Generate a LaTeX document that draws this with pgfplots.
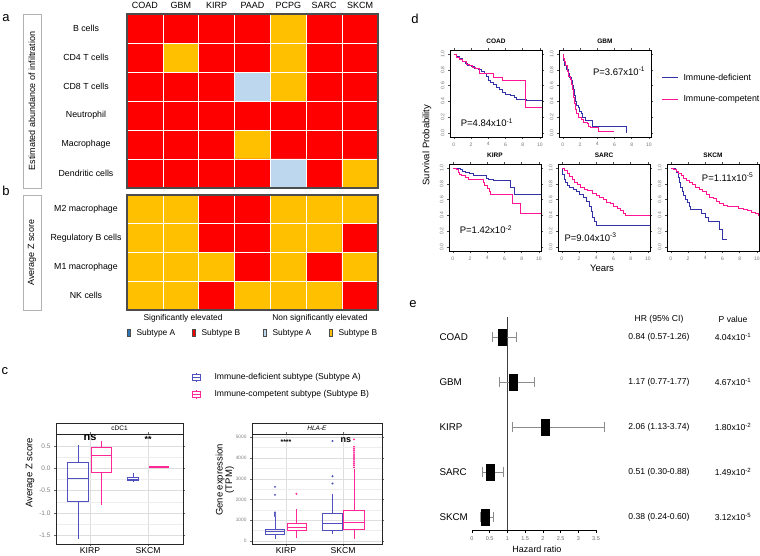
\documentclass[border=0pt]{standalone}
\usepackage{fontspec}
\setmainfont{Liberation Sans}
\usepackage{pgfplots}
\pgfplotsset{compat=1.18}
\usepgfplotslibrary{statistics}
\pgfkeys{/pgf/number format/assume math mode=true}
\newcommand{\fs}[1]{\fontsize{#1}{#1}\selectfont}
\definecolor{hred}{RGB}{255,0,0}
\definecolor{hora}{RGB}{255,192,0}
\definecolor{hlb}{RGB}{189,215,238}
\definecolor{hdb}{RGB}{46,117,182}
\definecolor{kmblue}{RGB}{50,50,165}
\definecolor{kmpink}{RGB}{255,20,147}
\definecolor{bxblue}{RGB}{80,80,190}
\definecolor{bxpink}{RGB}{255,40,150}

\pgfplotsset{
  heat/.style={scale only axis, width=251pt, xmin=-0.5, xmax=6.5, y dir=reverse,
    enlargelimits=false, xtick={0.5,1.5,2.5,3.5,4.5,5.5}, xticklabels={}, yticklabels={},
    grid=major, major grid style={white, line width=0.7pt}, major tick length=0pt,
    axis on top, axis line style={black!70, line width=1.3pt},
    colormap={hm}{rgb255=(255,0,0) rgb255=(255,192,0) rgb255=(189,215,238) rgb255=(46,117,182)},
    point meta min=0, point meta max=3},
  km/.style={scale only axis, width=92pt, height=87pt, xmin=-0.45, xmax=10.25, ymin=-0.05, ymax=1.05,
    xtick={0,2,4,6,8,10}, ytick={0,0.2,0.4,0.6,0.8,1},
    tick align=outside, major tick length=2pt, tick style={black!70, line width=0.4pt},
    tick label style={font=\fs{5}, text=black!55},
    yticklabel style={rotate=90, anchor=south, /pgf/number format/.cd, fixed, fixed zerofill, precision=1},
    axis line style={line width=1pt},
    title style={font=\bfseries\fs{6.5}, yshift=-3pt}},
  bx/.style={scale only axis, height=110pt, boxplot/draw direction=y,
    xtick={1,2}, xticklabels={KIRP,SKCM},
    grid=both, major grid style={black!13, line width=0.5pt}, minor grid style={black!7, line width=0.4pt},
    axis line style={black!85, line width=0.6pt}, tick align=outside, major tick length=2pt, minor tick length=0pt,
    tick style={black!60}, xticklabel style={font=\fs{8.6}, yshift=2pt}, clip=false},
}

\begin{document}
\begin{tikzpicture}[x=1pt,y=1pt]
\path[use as bounding box] (0,0) rectangle (760,-555);

% ---------------- panel a ----------------
\begin{axis}[heat, at={(127pt,-14pt)}, anchor=north west, height=174pt, ymin=-0.5, ymax=5.5,
  ytick={0.5,1.5,2.5,3.5,4.5}]
\addplot[matrix plot*, mesh/cols=7, mesh/ordering=x varies, point meta=explicit] table[meta=c]{
x y c
0 0 0
1 0 0
2 0 0
3 0 0
4 0 1
5 0 0
6 0 0
0 1 0
1 1 1
2 1 0
3 1 0
4 1 1
5 1 0
6 1 0
0 2 0
1 2 0
2 2 0
3 2 2
4 2 1
5 2 0
6 2 0
0 3 0
1 3 0
2 3 0
3 3 0
4 3 0
5 3 0
6 3 0
0 4 0
1 4 0
2 4 0
3 4 1
4 4 0
5 4 0
6 4 0
0 5 0
1 5 0
2 5 0
3 5 0
4 5 2
5 5 0
6 5 1
};
\end{axis}

% ---------------- panel b ----------------
\begin{axis}[heat, at={(127pt,-195pt)}, anchor=north west, height=115pt, ymin=-0.5, ymax=3.5,
  ytick={0.5,1.5,2.5}]
\addplot[matrix plot*, mesh/cols=7, mesh/ordering=x varies, point meta=explicit] table[meta=c]{
x y c
0 0 1
1 0 1
2 0 0
3 0 0
4 0 1
5 0 1
6 0 1
0 1 1
1 1 1
2 1 0
3 1 0
4 1 1
5 1 1
6 1 0
0 2 1
1 2 1
2 2 1
3 2 0
4 2 1
5 2 0
6 2 1
0 3 1
1 3 1
2 3 0
3 3 1
4 3 1
5 3 1
6 3 0
};
\end{axis}

% heatmap texts
\foreach \n [count=\i from 0] in {COAD,GBM,KIRP,PAAD,PCPG,SARC,SKCM}
  \node[font=\fs{9}, anchor=base] at ({127+35.857*(\i+0.5)},-8.5) {\n};
\foreach \n [count=\i from 0] in {B cells,CD4 T cells,CD8 T cells,Neutrophil,Macrophage,Dendritic cells}
  \node[font=\fs{8.8}] at (86,{-14-29*(\i+0.5)}) {\n};
\foreach \n [count=\i from 0] in {M2 macrophage,Regulatory B cells,M1 macrophage,NK cells}
  \node[font=\fs{8.8}] at (86,{-195-28.75*(\i+0.5)}) {\n};
\draw[black!30, line width=0.6pt] (23,-14) rectangle (41,-188);
\draw[black!30, line width=0.6pt] (23,-195) rectangle (41,-310);
\node[font=\fs{9}, rotate=90] at (32,-101) {Estimated abundance of infiltration};
\node[font=\fs{9}, rotate=90] at (32,-252.5) {Average Z score};
\node[font=\fs{13}] at (6,-18) {a};
\node[font=\fs{13}] at (6,-191) {b};
\node[font=\fs{8.4}] at (183,-318) {Significantly elevated};
\node[font=\fs{8.4}] at (320,-318) {Non significantly elevated};
\draw[black!70, fill=hdb, line width=0.4pt] (127,-329.5) rectangle (130.5,-336.5);
\node[font=\fs{8.4}, anchor=west] at (133,-333) {Subtype A};
\draw[black!70, fill=hred, line width=0.4pt] (192,-329.5) rectangle (195.5,-336.5);
\node[font=\fs{8.4}, anchor=west] at (198,-333) {Subtype B};
\draw[black!70, fill=hlb, line width=0.4pt] (263,-329.5) rectangle (266.5,-336.5);
\node[font=\fs{8.4}, anchor=west] at (269,-333) {Subtype A};
\draw[black!70, fill=hora, line width=0.4pt] (329,-329.5) rectangle (332.5,-336.5);
\node[font=\fs{8.4}, anchor=west] at (335,-333) {Subtype B};

% ---------------- panel c ----------------
\node[font=\fs{13}] at (5,-371) {c};
\draw[bxblue, line width=0.7pt] (192,-374) rectangle (200,-380) (192,-377) -- (200,-377) (196,-372.5) -- (196,-374) (196,-380) -- (196,-381.5);
\node[font=\fs{8.6}, anchor=west] at (211,-377) {Immune-deficient subtype (Subtype A)};
\draw[bxpink, line width=0.7pt] (192,-391) rectangle (200,-397) (192,-394) -- (200,-394) (196,-389.5) -- (196,-391) (196,-397) -- (196,-398.5);
\node[font=\fs{8.6}, anchor=west] at (211,-394) {Immune-competent subtype (Subtype B)};

\draw[black!85, line width=0.6pt] (56,-423) rectangle (183,-434);
\node[font=\fs{6.5}] at (119.5,-428.5) {cDC1};
\begin{axis}[bx, at={(56pt,-434pt)}, anchor=north west, width=127pt,
  xmin=0.414, xmax=2.603, ymin=-1.70, ymax=0.77,
  ytick={-1.5,-1,-0.5,0,0.5}, minor ytick={-1.25,-0.75,-0.25,0.25},
  yticklabel style={font=\fs{6.5}, text=black!50, /pgf/number format/.cd, fixed, fixed zerofill, precision=1}]
\addplot[bxblue, line width=0.7pt, mark=*, mark size=0.6pt, boxplot prepared={draw position=0.793, box extend=0.36, whisker extend=0, lower whisker=-1.59, lower quartile=-0.75, median=-0.22, upper quartile=0.14, upper whisker=0.53}] coordinates {};
\addplot[bxpink, line width=0.7pt, mark=*, mark size=0.6pt, boxplot prepared={draw position=1.198, box extend=0.34, whisker extend=0, lower whisker=-0.82, lower quartile=-0.08, median=0.30, upper quartile=0.46, upper whisker=0.62}] coordinates {};
\addplot[bxblue, line width=0.7pt, mark=*, mark size=0.6pt, boxplot prepared={draw position=1.74, box extend=0.18, whisker extend=0, lower whisker=-0.29, lower quartile=-0.28, median=-0.25, upper quartile=-0.195, upper whisker=-0.10}] coordinates {};
\addplot[bxpink, line width=0.7pt, mark=*, mark size=0.6pt, boxplot prepared={draw position=2.18, box extend=0.33, whisker extend=0, lower whisker=0.0, lower quartile=0.03, median=0.035, upper quartile=0.04, upper whisker=0.045}] coordinates {};
\node[font=\bfseries\fs{11}] at (axis cs:1,0.68) {ns};
\node[font=\bfseries\fs{9}] at (axis cs:2,0.66) {**};
\end{axis}
\node[font=\fs{9.5}, rotate=90] at (30,-473) {Average Z score};

% HLA-E, values in thousands of TPM
\draw[black!85, line width=0.6pt] (252,-423) rectangle (382,-434);
\node[font=\itshape\fs{6.5}] at (317,-428.5) {HLA-E};
\begin{axis}[bx, at={(252pt,-434pt)}, anchor=north west, width=130pt,
  xmin=0.404, xmax=2.684, ymin=-0.145, ymax=5.159,
  ytick={0,1,2,3,4,5}, yticklabels={0,1000,2000,3000,4000,5000},
  minor ytick={0.5,1.5,2.5,3.5,4.5},
  yticklabel style={font=\fs{4.8}, text=black!50}]
\addplot[bxblue, line width=0.7pt, mark=*, mark size=0.6pt, boxplot prepared={draw position=0.807, box extend=0.33, whisker extend=0, lower whisker=0.096, lower quartile=0.337, median=0.480, upper quartile=0.577, upper whisker=1.170}] table[row sep=\\, y index=0]{2.610\\2.225\\1.380\\1.310\\1.250\\1.200\\};
\addplot[bxpink, line width=0.7pt, mark=*, mark size=0.6pt, boxplot prepared={draw position=1.184, box extend=0.33, whisker extend=0, lower whisker=0.130, lower quartile=0.495, median=0.640, upper quartile=0.850, upper whisker=1.525}] table[row sep=\\, y index=0]{2.275\\};
\addplot[bxblue, line width=0.7pt, mark=*, mark size=0.6pt, boxplot prepared={draw position=1.816, box extend=0.36, whisker extend=0, lower whisker=0.320, lower quartile=0.530, median=0.850, upper quartile=1.330, upper whisker=2.260}] table[row sep=\\, y index=0]{4.820\\3.125\\2.770\\};
\addplot[bxpink, line width=0.7pt, mark=*, mark size=0.6pt, boxplot prepared={draw position=2.193, box extend=0.36, whisker extend=0, lower whisker=0.080, lower quartile=0.560, median=0.900, upper quartile=1.460, upper whisker=3.490}] table[row sep=\\, y index=0]{3.550\\3.650\\3.750\\3.850\\3.950\\4.050\\4.150\\4.250\\4.350\\4.450\\4.550\\4.900\\};
\node[font=\bfseries\fs{7}] at (axis cs:1,4.788) {****};
\node[font=\bfseries\fs{9}] at (axis cs:2.05,4.85) {ns};
\end{axis}
\node[font=\fs{9.5}, rotate=90, align=center] at (225,-480) {Gene expression\\(TPM)};

% ---------------- panel d ----------------
\node[font=\fs{13}] at (415,-19) {d};
\begin{axis}[km, at={(450pt,-50pt)}, anchor=north west, title={COAD}]
\addplot[const plot, kmblue, line width=0.8pt] coordinates {(0,1)(0.3,0.97)(0.6,0.94)(1.0,0.9)(1.3,0.88)(1.6,0.86)(2.0,0.84)(2.4,0.82)(2.8,0.80)(3.2,0.78)(3.5,0.75)(3.8,0.71)(4.0,0.67)(4.3,0.64)(4.6,0.62)(5.0,0.58)(5.3,0.55)(5.6,0.51)(6.0,0.49)(6.6,0.48)(7.0,0.45)(7.3,0.43)(8.0,0.42)(8.4,0.41)(10.4,0.41)};
\addplot[const plot, kmpink, line width=0.8pt] coordinates {(0,1)(0.3,0.96)(0.6,0.93)(1.0,0.9)(1.4,0.87)(1.8,0.85)(2.2,0.83)(2.5,0.82)(3.0,0.76)(4.6,0.70)(5.6,0.66)(8.3,0.33)(10.4,0.33)};
\node[font=\fs{9.5}, anchor=west] at (axis cs:0.4,0.13) {P=4.84x10\textsuperscript{-1}};
\end{axis}
\begin{axis}[km, at={(559pt,-50pt)}, anchor=north west, title={GBM}]
\addplot[const plot, kmblue, line width=0.8pt] coordinates {(0,1)(0.1,0.92)(0.2,0.85)(0.4,0.8)(0.6,0.75)(0.8,0.7)(1.0,0.66)(1.1,0.6)(1.2,0.55)(1.3,0.48)(1.4,0.4)(1.6,0.35)(1.8,0.32)(1.9,0.28)(2.1,0.25)(2.3,0.2)(2.6,0.16)(3.4,0.08)(7.4,0.0)};
\addplot[const plot, kmpink, line width=0.8pt] coordinates {(0,1)(0.1,0.95)(0.2,0.9)(0.3,0.85)(0.5,0.78)(0.7,0.72)(0.9,0.68)(1.0,0.62)(1.1,0.55)(1.2,0.45)(1.3,0.38)(1.4,0.3)(1.6,0.25)(1.8,0.2)(2.1,0.17)(2.4,0.14)(2.8,0.12)(3.0,0.09)(3.2,0.07)(4.0,0.07)(4.1,0.02)(5.9,0.02)};
\node[font=\fs{9.5}, anchor=west] at (axis cs:3.1,0.78) {P=3.67x10\textsuperscript{-1}};
\end{axis}
% legend of panel d
\draw[kmblue, line width=0.9pt] (662,-77) -- (678,-77);
\node[font=\fs{8.8}, anchor=west] at (680,-77) {Immune-deficient};
\draw[kmpink, line width=0.9pt] (662,-99) -- (678,-99);
\node[font=\fs{8.8}, anchor=west] at (680,-99) {Immune-competent};
\begin{axis}[km, at={(449pt,-164pt)}, anchor=north west, title={KIRP}]
\addplot[const plot, kmblue, line width=0.8pt] coordinates {(0,1)(0.9,0.98)(1.1,0.96)(1.5,0.94)(1.9,0.93)(2.4,0.91)(3.9,0.87)(4.1,0.86)(4.7,0.84)(6.7,0.76)(7.1,0.67)(10.4,0.67)};
\addplot[const plot, kmpink, line width=0.8pt] coordinates {(0,1)(0.4,0.98)(0.6,0.95)(0.8,0.92)(1.0,0.90)(1.5,0.88)(1.8,0.86)(3.5,0.82)(3.7,0.78)(4.0,0.74)(4.2,0.70)(4.4,0.66)(6.9,0.55)(7.9,0.42)(10.4,0.42)};
\node[font=\fs{9.5}, anchor=west] at (axis cs:0.4,0.22) {P=1.42x10\textsuperscript{-2}};
\end{axis}
\begin{axis}[km, at={(558pt,-164pt)}, anchor=north west, title={SARC}]
\addplot[const plot, kmblue, line width=0.8pt] coordinates {(0,1)(0.1,0.92)(0.25,0.86)(0.4,0.82)(0.6,0.78)(0.9,0.75)(1.3,0.73)(1.7,0.70)(2.0,0.66)(2.5,0.63)(2.9,0.58)(3.2,0.52)(3.4,0.45)(3.6,0.38)(3.8,0.33)(4.0,0.28)(10.4,0.28)};
\addplot[const plot, kmpink, line width=0.8pt] coordinates {(0,1)(0.3,0.97)(0.6,0.93)(0.9,0.89)(1.2,0.85)(1.5,0.82)(1.8,0.79)(2.2,0.76)(2.6,0.73)(3.0,0.71)(3.5,0.68)(4.0,0.65)(4.4,0.63)(4.8,0.60)(5.2,0.57)(5.6,0.55)(6.0,0.51)(6.4,0.49)(6.8,0.46)(7.1,0.42)(7.4,0.40)(10.4,0.40)};
\node[font=\fs{9.5}, anchor=west] at (axis cs:-0.1,0.12) {P=9.04x10\textsuperscript{-3}};
\end{axis}
\begin{axis}[km, at={(667pt,-164pt)}, anchor=north west, title={SKCM}]
\addplot[const plot, kmblue, line width=0.8pt] coordinates {(0,1)(0.5,0.98)(0.7,0.95)(0.9,0.88)(1.0,0.82)(1.1,0.76)(1.3,0.70)(1.5,0.65)(1.7,0.60)(1.9,0.56)(2.1,0.52)(2.3,0.48)(3.6,0.42)(4.0,0.38)(4.4,0.32)(5.6,0.22)(6.0,0.10)(6.5,0.10)};
\addplot[const plot, kmpink, line width=0.8pt] coordinates {(0,1)(0.3,0.98)(0.6,0.96)(0.9,0.93)(1.2,0.9)(1.5,0.87)(1.8,0.84)(2.1,0.82)(2.5,0.79)(2.9,0.76)(3.3,0.73)(3.7,0.70)(4.1,0.66)(4.5,0.63)(4.9,0.61)(5.3,0.58)(5.7,0.55)(6.1,0.53)(6.6,0.52)(7.2,0.51)(7.8,0.49)(8.4,0.48)(8.9,0.46)(9.4,0.44)(9.8,0.42)(10.2,0.40)(10.4,0.39)};
\node[font=\fs{9.5}, anchor=west] at (axis cs:3.2,0.88) {P=1.11x10\textsuperscript{-5}};
\end{axis}
\node[font=\fs{9.5}, rotate=90] at (427,-145) {Survival Probability};
\node[font=\fs{9.5}] at (602,-268) {Years};

% ---------------- panel e ----------------
\node[font=\fs{13}] at (413,-304) {e};
\begin{axis}[at={(472pt,-317pt)}, anchor=north west, scale only axis, width=124pt, height=213pt,
  xmin=0, xmax=3.5, ymin=0.556, ymax=5.289, y dir=reverse,
  axis x line=bottom, axis y line=none, axis line style={-, black, line width=0.8pt},
  xtick={0,0.5,1,1.5,2,2.5,3,3.5}, tick align=outside, major tick length=3pt, tick style={black, line width=0.6pt},
  xticklabel style={font=\fs{5.5}, text=black!60}, clip=false]
\addplot[black!75, line width=0.8pt] coordinates {(1,0.556)(1,5.289)};
\addplot[only marks, mark=square*, mark size=8pt, mark options={xscale=0.5, fill=black, draw=black},
  error bars/.cd, x dir=both, x explicit, error bar style={black!45, line width=0.6pt},
  error mark options={black!45, rotate=90, mark size=5pt, line width=0.6pt}]
  table[x=hr, y=r, x error minus=lo, x error plus=hi]{
r hr lo hi
1 0.84 0.27 0.42
2 1.17 0.40 0.60
3 2.06 0.93 1.68
4 0.51 0.21 0.37
5 0.38 0.14 0.22
};
\end{axis}
\node[font=\fs{9}] at (537,-549) {Hazard ratio};
\foreach \n [count=\i from 0] in {COAD,GBM,KIRP,SARC,SKCM}
  \node[font=\fs{9.8}, anchor=west] at (436,{-337-45*\i}) {\n};
\node[font=\fs{8.6}] at (659,-319) {HR (95\% CI)};
\node[font=\fs{8.6}] at (733,-319) {P value};
\foreach \t [count=\i from 0] in {0.84 (0.57-1.26),1.17 (0.77-1.77),2.06 (1.13-3.74),0.51 (0.30-0.88),0.38 (0.24-0.60)}
  \node[font=\fs{8.6}] at (659,{-337-45*\i}) {\t};
\node[font=\fs{8.6}] at (733,-337) {4.04x10\textsuperscript{-1}};
\node[font=\fs{8.6}] at (733,-382) {4.67x10\textsuperscript{-1}};
\node[font=\fs{8.6}] at (733,-427) {1.80x10\textsuperscript{-2}};
\node[font=\fs{8.6}] at (733,-472) {1.49x10\textsuperscript{-2}};
\node[font=\fs{8.6}] at (733,-517) {3.12x10\textsuperscript{-5}};
\end{tikzpicture}
\end{document}
